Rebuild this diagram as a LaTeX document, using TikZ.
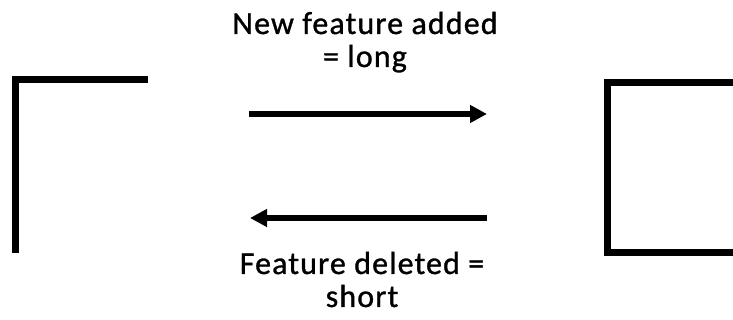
\documentclass[tikz,border=0pt]{standalone}
\usepackage{fontspec}
\setmainfont{Carlito}
\newfontfamily\lblfont[LetterSpace=3.5,FakeBold=1]{Carlito}
\usepackage{tikz}
\usetikzlibrary{arrows.meta,positioning}
\tikzset{
  frame/.style={draw=black,line width=7pt,line join=miter,line cap=butt},
  ar/.style={-{Triangle[length=17pt,width=17pt]},draw=black,line width=5.5pt},
  lbl/.style={align=center,inner sep=0pt,font=\lblfont\fontsize{32}{33}\selectfont},
}
\begin{document}
\begin{tikzpicture}[x=1pt,y=1pt]
  \useasboundingbox (0,0) rectangle (733,320);
  % left corner and right box
  \draw[frame] (15,67) -- (15,240) -- (148,240);
  \draw[frame] (736,237) -- (607,237) -- (607,67) -- (736,67);
  % arrows
  \coordinate (addS) at (249,206);
  \coordinate (addE) at (487,206);
  \coordinate (delS) at (487,102);
  \coordinate (delE) at (250,102);
  \draw[ar] (addS) -- (addE);
  \draw[ar] (delS) -- (delE);
  \node[lbl,anchor=base] (added) at (365,253) {New feature added\\= long};
  \node[lbl,anchor=base] (deleted) at (362,13) {Feature deleted =\\short};
\end{tikzpicture}
\end{document}
